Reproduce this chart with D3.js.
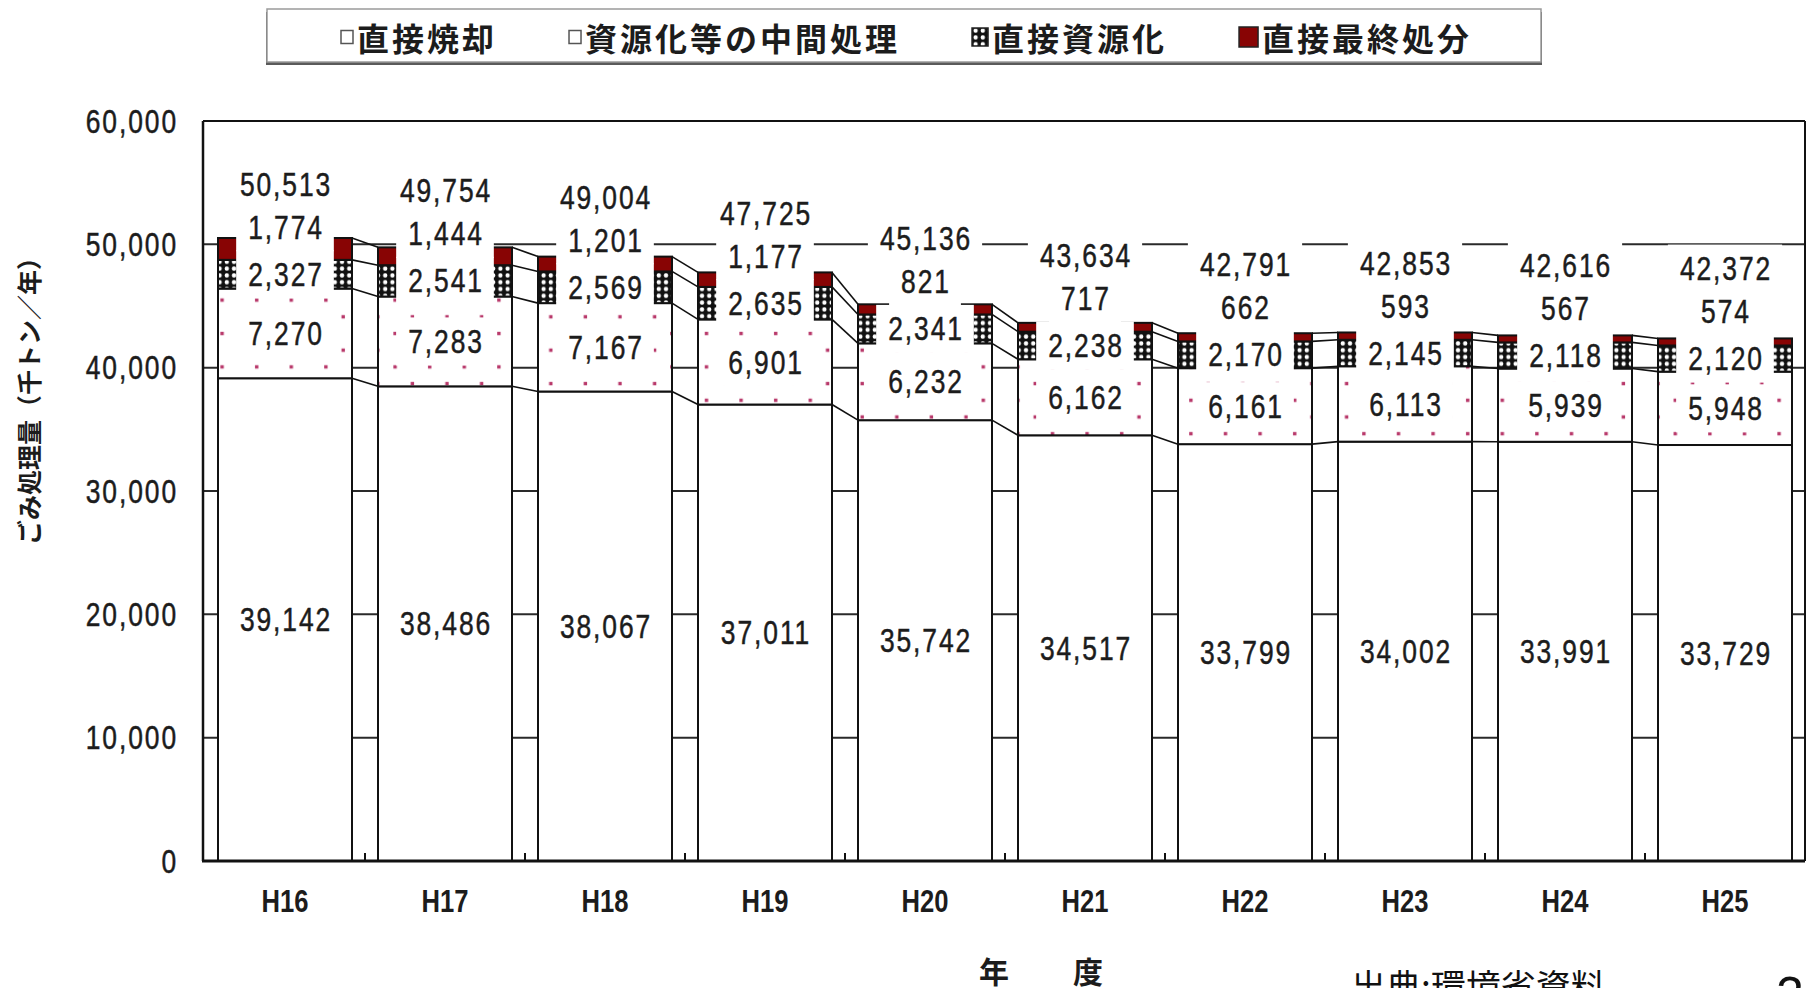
<!DOCTYPE html>
<html lang="ja">
<head>
<meta charset="utf-8">
<script src="https://cdn.jsdelivr.net/npm/d3@7"></script>
<style>
  html, body { margin: 0; padding: 0; background: #fff; }
  svg { display: block; }
</style>
</head>
<body>
<script>
(function () {
    // ── DATA ───────────────────────────────────────────────────────────────
    const years = ["H16", "H17", "H18", "H19", "H20", "H21", "H22", "H23", "H24", "H25"];
    const directIncineration    = [39142, 38486, 38067, 37011, 35742, 34517, 33799, 34002, 33991, 33729];
    const intermediateTreatment = [7270, 7283, 7167, 6901, 6232, 6162, 6161, 6113, 5939, 5948];
    const directRecycling       = [2327, 2541, 2569, 2635, 2341, 2238, 2170, 2145, 2118, 2120];
    const directLandfill        = [1774, 1444, 1201, 1177, 821, 717, 662, 593, 567, 574];
    const totals                = [50513, 49754, 49004, 47725, 45136, 43634, 42791, 42853, 42616, 42372];
    const seriesNames = ["直接焼却", "資源化等の中間処理", "直接資源化", "直接最終処分"];
    const yTicks = [0, 10000, 20000, 30000, 40000, 50000, 60000];
    const gridValues = [10000, 20000, 30000, 40000, 50000];

    const width = 1807, height = 988;
    const plot = { left: 203, right: 1805, top: 121, bottom: 861 };

    const NUM = "'Liberation Sans',Arial,sans-serif";
    const JP = "'Noto Sans CJK JP','Noto Sans',sans-serif";
    const SQUEEZE = 0.8;    // narrow, tall digits like the original Gothic font
    const INK = "#1c1c1c";
    const RED = "#880404";

    // ── SVG SETUP ──────────────────────────────────────────────────────────
    const svg = d3.select("body").append("svg")
        .attr("width", width)
        .attr("height", height)
        .attr("viewBox", `0 0 ${width} ${height}`);

    const defs = svg.append("defs");

    // sparse pink dots (資源化等の中間処理)
    const dots = defs.append("pattern")
        .attr("id", "dots")
        .attr("patternUnits", "userSpaceOnUse")
        .attr("x", 213.4).attr("y", 291.7)
        .attr("width", 34.6).attr("height", 33.4);
    dots.append("rect").attr("width", 34.6).attr("height", 33.4).attr("fill", "#fff");
    dots.append("rect").attr("x", 7.0).attr("y", 6.7).attr("width", 3.4).attr("height", 3.4).attr("fill", "#b8386a");
    dots.append("rect").attr("x", 24.3).attr("y", 23.4).attr("width", 3.4).attr("height", 3.4).attr("fill", "#b8386a");

    // black with white holes (直接資源化)
    const checker = defs.append("pattern")
        .attr("id", "checker")
        .attr("patternUnits", "userSpaceOnUse")
        .attr("width", 7.2).attr("height", 6.8);
    checker.append("rect").attr("width", 7.2).attr("height", 6.8).attr("fill", "#111");
    checker.append("rect").attr("x", 1.5).attr("y", 1.3).attr("width", 4.2).attr("height", 4.2)
        .attr("rx", 1.8).attr("fill", "#fff");

    // ── SCALES ─────────────────────────────────────────────────────────────
    const x = d3.scaleBand()
        .domain(years)
        .range([plot.left + 2, plot.right])
        .paddingInner(0.1625)
        .paddingOuter(0.08125);
    const bw = x.bandwidth();

    const y = d3.scaleLinear().domain([0, 60000]).range([plot.bottom, plot.top]);

    const keys = ["incin", "inter", "recyc", "land"];
    const fills = { incin: "#fff", inter: "url(#dots)", recyc: "url(#checker)", land: RED };
    const rows = years.map((yr, i) => ({
        year: yr,
        incin: directIncineration[i],
        inter: intermediateTreatment[i],
        recyc: directRecycling[i],
        land: directLandfill[i]
    }));
    const stacked = d3.stack().keys(keys)(rows);

    // ── GRIDLINES (hidden behind the white bars) ───────────────────────────
    svg.append("g")
        .selectAll("line")
        .data(gridValues)
        .join("line")
        .attr("x1", plot.left).attr("x2", plot.right)
        .attr("y1", d => y(d)).attr("y2", d => y(d))
        .attr("stroke", "#2a2a2a")
        .attr("stroke-width", 2);

    // ── BARS ───────────────────────────────────────────────────────────────
    svg.append("g")
        .selectAll("g")
        .data(stacked)
        .join("g")
        .attr("fill", d => fills[d.key])
        .selectAll("rect")
        .data(d => d)
        .join("rect")
        .attr("x", d => x(d.data.year))
        .attr("y", d => y(d[1]))
        .attr("width", bw)
        .attr("height", d => y(d[0]) - y(d[1]))
        .attr("stroke", "#111")
        .attr("stroke-width", 2);

    // ── SERIES LINES between neighbouring bars ─────────────────────────────
    const links = [];
    stacked.forEach(s => {
        for (let i = 0; i < years.length - 1; i++) {
            links.push({ x1: x(years[i]) + bw, y1: y(s[i][1]), x2: x(years[i + 1]), y2: y(s[i + 1][1]) });
        }
    });
    svg.append("g")
        .selectAll("line")
        .data(links)
        .join("line")
        .attr("x1", d => d.x1).attr("y1", d => d.y1)
        .attr("x2", d => d.x2).attr("y2", d => d.y2)
        .attr("stroke", "#111")
        .attr("stroke-width", 1.6);

    // ── AXES / FRAME ───────────────────────────────────────────────────────
    const frame = svg.append("g").attr("stroke", "#111").attr("fill", "none");
    frame.append("line").attr("x1", plot.left).attr("x2", plot.right)
        .attr("y1", plot.top).attr("y2", plot.top).attr("stroke-width", 2);
    frame.append("line").attr("x1", plot.right).attr("x2", plot.right)
        .attr("y1", plot.top).attr("y2", plot.bottom).attr("stroke-width", 2);
    frame.append("line").attr("x1", plot.left).attr("x2", plot.left)
        .attr("y1", plot.top).attr("y2", plot.bottom).attr("stroke-width", 2.5);
    frame.append("line").attr("x1", plot.left - 1).attr("x2", plot.right)
        .attr("y1", plot.bottom).attr("y2", plot.bottom).attr("stroke-width", 3);

    // category boundary ticks (pointing inward)
    frame.selectAll("line.ctick")
        .data(years.slice(1))
        .join("line")
        .attr("class", "ctick")
        .attr("x1", d => x(d) - x.step() * x.paddingInner() / 2)
        .attr("x2", d => x(d) - x.step() * x.paddingInner() / 2)
        .attr("y1", plot.bottom).attr("y2", plot.bottom - 8)
        .attr("stroke-width", 2);

    const fmt = d3.format(",");

    // shared look for the numbers
    function numStyle(sel) {
        return sel
            .attr("dominant-baseline", "central")
            .style("font-family", NUM)
            .style("font-size", "33px")
            .style("letter-spacing", "2.4px")
            .style("fill", INK)
            .style("stroke", INK)
            .style("stroke-width", "0.5px");
    }

    // y tick labels
    svg.append("g")
        .selectAll("text")
        .data(yTicks)
        .join("text")
        .attr("transform", d => `translate(178,${y(d)}) scale(${SQUEEZE},1)`)
        .attr("text-anchor", "end")
        .call(numStyle)
        .text(fmt);

    // x category labels
    svg.append("g")
        .selectAll("text")
        .data(years)
        .join("text")
        .attr("transform", d => `translate(${x(d) + bw / 2},901) scale(${SQUEEZE},1)`)
        .attr("text-anchor", "middle")
        .attr("dominant-baseline", "central")
        .style("font-family", NUM)
        .style("font-size", "32px")
        .style("font-weight", "bold")
        .style("fill", INK)
        .text(d => d);

    // ── DATA LABELS (white boxes like the original) ────────────────────────
    const labels = [];
    years.forEach((yr, i) => {
        const cx = x(yr) + bw / 2;
        const mid = s => (y(s[i][0]) + y(s[i][1])) / 2;
        const cIncin = mid(stacked[0]);
        const cInter = mid(stacked[1]);
        const cRecyc = mid(stacked[2]);
        const cLand = Math.min(mid(stacked[3]), cRecyc - 47);
        const cTotal = cLand - 43;
        labels.push({ x: cx, y: cIncin, text: fmt(directIncineration[i]) });
        labels.push({ x: cx, y: cInter, text: fmt(intermediateTreatment[i]) });
        labels.push({ x: cx, y: cRecyc, text: fmt(directRecycling[i]) });
        labels.push({ x: cx, y: cLand, text: fmt(directLandfill[i]) });
        labels.push({ x: cx, y: cTotal, text: fmt(totals[i]) });
    });

    const boxLayer = svg.append("g");
    const textLayer = svg.append("g");
    textLayer.selectAll("text")
        .data(labels)
        .join("text")
        .attr("transform", d => `translate(${d.x + 1},${d.y}) scale(${SQUEEZE},1)`)
        .attr("text-anchor", "middle")
        .call(numStyle)
        .text(d => d.text)
        .each(function (d) { d.w = this.getComputedTextLength() * SQUEEZE; });

    boxLayer.selectAll("rect")
        .data(labels)
        .join("rect")
        .attr("x", d => d.x - d.w / 2 - 11)
        .attr("y", d => d.y - 24)
        .attr("width", d => d.w + 22)
        .attr("height", 48)
        .attr("fill", "#fff");

    // ── LEGEND ─────────────────────────────────────────────────────────────
    const legend = svg.append("g");
    legend.append("rect")
        .attr("x", 266).attr("y", 12).attr("width", 1276).attr("height", 53)
        .attr("fill", "#5a5a5a");
    legend.append("rect")
        .attr("x", 267).attr("y", 9).attr("width", 1274).attr("height", 53)
        .attr("fill", "#fff").attr("stroke", "#9a9a9a").attr("stroke-width", 1.5);

    const markers = [
        { w: 12, h: 13, fill: "#fff" },
        { w: 12, h: 13, fill: "#fff" },
        { w: 16, h: 18, fill: "url(#checker)" },
        { w: 19, h: 20, fill: RED }
    ];
    let cursor = 341;
    seriesNames.forEach((name, i) => {
        const m = markers[i];
        legend.append("rect")
            .attr("x", cursor).attr("y", 37 - m.h / 2)
            .attr("width", m.w).attr("height", m.h)
            .attr("fill", m.fill)
            .attr("stroke", i < 2 ? "#555" : "#222")
            .attr("stroke-width", 1.5);
        const t = legend.append("text")
            .attr("x", cursor + m.w + 4)
            .attr("y", 37)
            .attr("dominant-baseline", "central")
            .style("font-family", JP)
            .style("font-size", "32px")
            .style("font-weight", "bold")
            .style("letter-spacing", "3px")
            .style("fill", INK)
            .text(name);
        cursor += m.w + 4 + t.node().getComputedTextLength() + 72;
    });

    // ── AXIS TITLES / NOTES ────────────────────────────────────────────────
    svg.append("text")
        .attr("transform", "translate(28,395) rotate(-90)")
        .attr("text-anchor", "middle")
        .attr("dominant-baseline", "central")
        .style("font-family", JP)
        .style("font-size", "25px")
        .style("font-weight", "bold")
        .style("fill", INK)
        .text("ごみ処理量（千トン／年）");

    svg.append("text")
        .attr("x", 979).attr("y", 970)
        .attr("dominant-baseline", "central")
        .style("font-family", JP)
        .style("font-size", "30px")
        .style("font-weight", "bold")
        .style("letter-spacing", "17px")
        .style("fill", INK)
        .text("年　度");

    svg.append("text")
        .attr("x", 1351).attr("y", 1000)
        .style("font-family", JP)
        .style("font-size", "35px")
        .style("fill", "#111")
        .text("出典:環境省資料");

    svg.append("text")
        .attr("x", 1776).attr("y", 1012)
        .style("font-family", "'Liberation Sans',Arial,sans-serif")
        .style("font-size", "50px")
        .style("fill", "#111")
        .text("2");
})();
</script>
</body>
</html>
